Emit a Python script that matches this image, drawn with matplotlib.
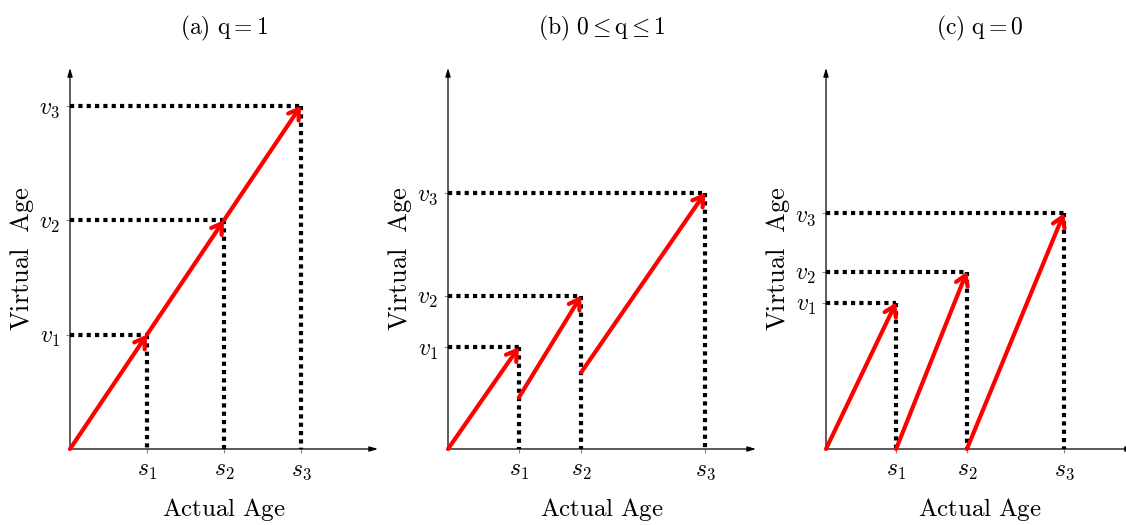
import matplotlib
matplotlib.use('Agg')
import matplotlib.pyplot as plt

plt.rcParams['mathtext.fontset'] = 'cm'
plt.rcParams['font.family'] = ['DejaVu Serif']

# --- data (in axis units) ---
titles = [r'$\mathrm{(a)\ q = 1}$', r'$\mathrm{(b)\ 0 \leq q \leq 1}$', r'$\mathrm{(c)\ q = 0}$']
s_a = [1.0, 2.0, 3.0]
v_a = [1.0, 2.0, 3.0]
start_a = [0.0, 1.0, 2.0]

s_b = [0.92, 1.73, 3.34]
v_b = [0.89, 1.34, 2.24]
start_b = [0.0, 0.45, 0.67]

s_c = [0.91, 1.83, 3.09]
v_c = [1.28, 1.55, 2.06]
start_c = [0.0, 0.0, 0.0]

s_labels = [r'$s_1$', r'$s_2$', r'$s_3$']
v_labels = [r'$v_1$', r'$v_2$', r'$v_3$']
xlabel = r'$\mathrm{Actual\ Age}$'
ylabel = r'$\mathrm{Virtual\ \ Age}$'

panels = [(s_a, v_a, start_a), (s_b, v_b, start_b), (s_c, v_c, start_c)]

W, H = 1126, 525
fig = plt.figure(figsize=(W / 100, H / 100), dpi=100)

# axes placement (origin px x)
lefts = [70, 448, 826]
x_max = 4.0
y_max = 3.33
ax_w = 308
y0, ytop = 449, 68

for i, (s, v, st) in enumerate(panels):
    ax = fig.add_axes([lefts[i] / W, (H - y0) / H, ax_w / W, (y0 - ytop) / H])
    ax.set_xlim(0, x_max)
    ax.set_ylim(0, y_max)
    for sp in ax.spines.values():
        sp.set_visible(False)

    # axis arrows
    ax.annotate('', xy=(x_max, 0), xytext=(0, 0),
                arrowprops=dict(arrowstyle='-|>,head_length=0.5,head_width=0.15',
                                color='black', lw=0.9, shrinkA=0, shrinkB=0),
                annotation_clip=False)
    ax.annotate('', xy=(0, y_max), xytext=(0, 0),
                arrowprops=dict(arrowstyle='-|>,head_length=0.5,head_width=0.15',
                                color='black', lw=0.9, shrinkA=0, shrinkB=0),
                annotation_clip=False)

    # dotted guide lines
    prev_s = 0.0
    for k in range(3):
        ax.plot([0, s[k]], [v[k], v[k]], color='black', lw=3,
                linestyle=(0, (1, 1)), dash_capstyle='butt', zorder=2)
        ax.plot([s[k], s[k]], [v[k], 0], color='black', lw=3,
                linestyle=(0, (1, 1)), dash_capstyle='butt', zorder=2)
        # red segments with open arrowheads
        ax.annotate('', xy=(s[k], v[k]), xytext=(prev_s, st[k]),
                    arrowprops=dict(arrowstyle='->,head_length=0.7,head_width=0.45',
                                    color='red', lw=3, shrinkA=0, shrinkB=0),
                    zorder=3)
        prev_s = s[k]

    ax.set_xticks(s)
    ax.set_xticklabels(s_labels, fontsize=17)
    ax.set_yticks(v)
    ax.set_yticklabels(v_labels, fontsize=17)
    ax.tick_params(length=3, width=0.8, color='#888888', pad=4)
    ax.set_xlabel(xlabel, fontsize=18, labelpad=10)
    ax.set_ylabel(ylabel, fontsize=19, labelpad=2)
    ax.set_title(titles[i], fontsize=17, pad=24)

fig.savefig('out.png', dpi=100)
